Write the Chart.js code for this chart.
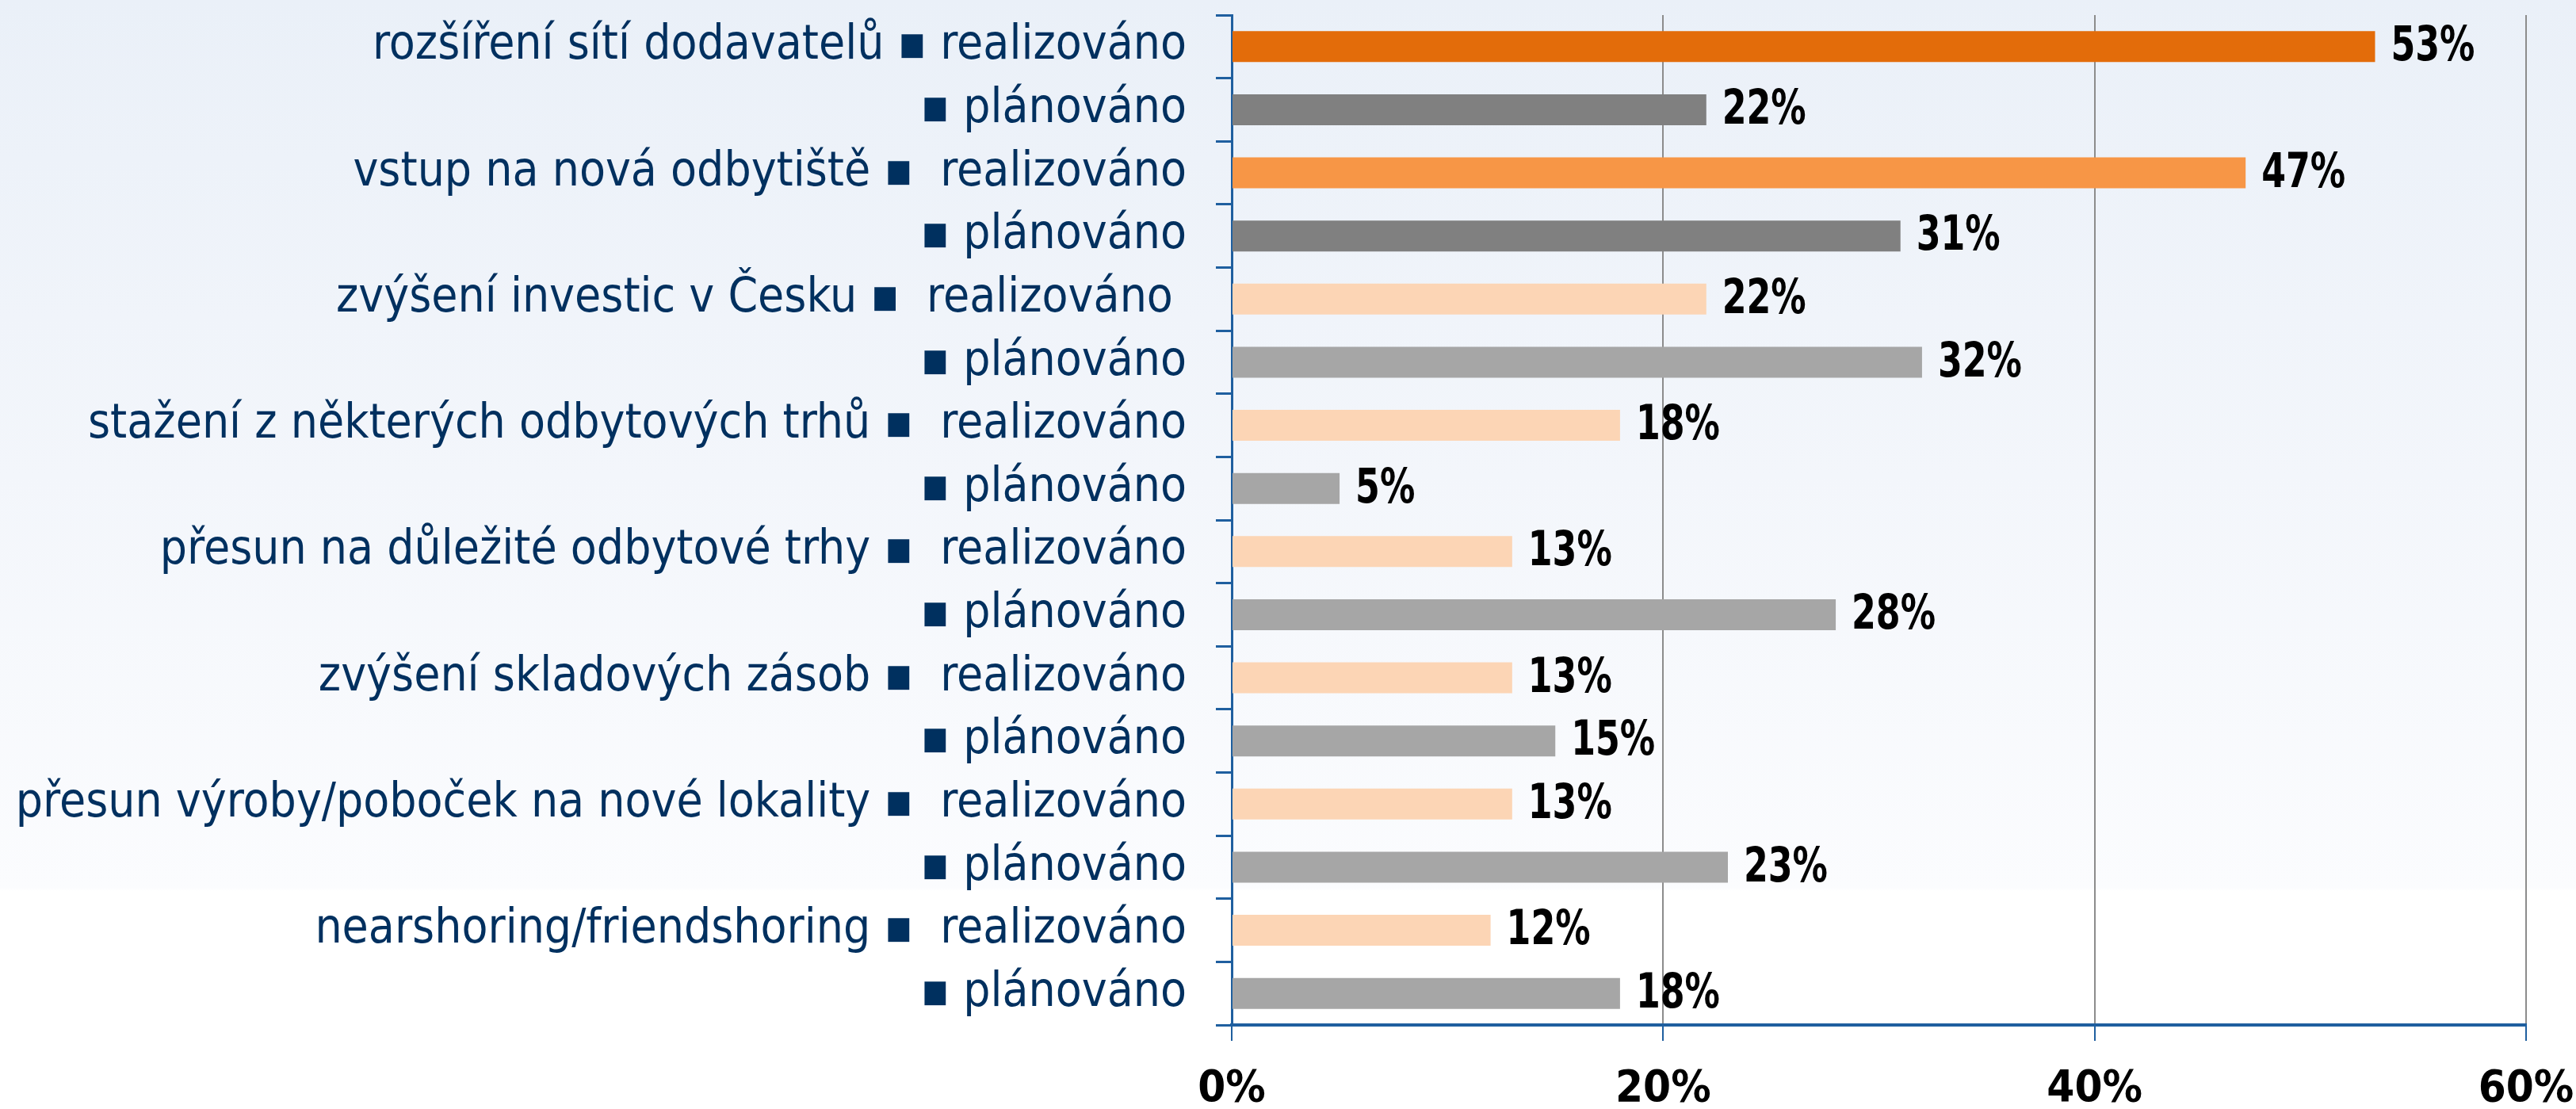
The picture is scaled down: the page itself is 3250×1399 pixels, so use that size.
<!DOCTYPE html>
<html>
<head>
<meta charset="utf-8">
<script src="https://cdn.jsdelivr.net/npm/chart.js@4/dist/chart.umd.min.js"></script>
<style>
    html, body { margin: 0; padding: 0; }
    body {
        width: 3250px;
        height: 1399px;
        background: linear-gradient(to bottom, #eaf0f8 0px, #f3f6fb 600px, #fbfcfe 1120px, #ffffff 1124px);
    }
    canvas { display: block; }
</style>
</head>
<body>
<canvas id="chart" width="3250" height="1399"></canvas>
<script>
const categories = [
    'rozšíření sítí dodavatelů ▪ realizováno',
    '▪ plánováno',
    'vstup na nová odbytiště ▪  realizováno',
    '▪ plánováno',
    'zvýšení investic v Česku ▪  realizováno ',
    '▪ plánováno',
    'stažení z některých odbytových trhů ▪  realizováno',
    '▪ plánováno',
    'přesun na důležité odbytové trhy ▪  realizováno',
    '▪ plánováno',
    'zvýšení skladových zásob ▪  realizováno',
    '▪ plánováno',
    'přesun výroby/poboček na nové lokality ▪  realizováno',
    '▪ plánováno',
    'nearshoring/friendshoring ▪  realizováno',
    '▪ plánováno'
];

const shareValues = [53, 22, 47, 31, 22, 32, 18, 5, 13, 28, 13, 15, 13, 23, 12, 18];

const xTicks = [0, 20, 40, 60];

const barColours = [
    '#e36c0a', '#808080',
    '#f79646', '#808080',
    '#fcd5b5', '#a6a6a6',
    '#fcd5b5', '#a6a6a6',
    '#fcd5b5', '#a6a6a6',
    '#fcd5b5', '#a6a6a6',
    '#fcd5b5', '#a6a6a6',
    '#fcd5b5', '#a6a6a6'
];

const axisBlue = '#1f5f9f';
const labelFont = "'DejaVu Sans Condensed', 'DejaVu Sans', sans-serif";

// value labels next to each bar, squeezed a bit to look like the narrow original
const valueLabels = {
    id: 'valueLabels',
    afterDatasetsDraw(chart) {
        const ctx = chart.ctx;
        const meta = chart.getDatasetMeta(0);
        ctx.save();
        ctx.font = 'bold 60px ' + labelFont;
        ctx.fillStyle = '#000000';
        ctx.textAlign = 'left';
        ctx.textBaseline = 'middle';
        meta.data.forEach((bar, i) => {
            ctx.save();
            ctx.translate(bar.x + 20, bar.y + 2);
            ctx.scale(0.82, 1);
            ctx.fillText(shareValues[i] + '%', 0, 0);
            ctx.restore();
        });
        ctx.restore();
    }
};

new Chart(document.getElementById('chart').getContext('2d'), {
    type: 'bar',
    data: {
        labels: categories,
        datasets: [{
            data: shareValues,
            backgroundColor: barColours,
            borderWidth: 0,
            categoryPercentage: 1,
            barPercentage: 0.49
        }]
    },
    options: {
        indexAxis: 'y',
        animation: false,
        responsive: false,
        layout: { padding: { top: 19, right: 63, left: 0, bottom: 0 } },
        plugins: {
            legend: { display: false },
            tooltip: { enabled: false }
        },
        scales: {
            x: {
                min: 0,
                max: 60,
                afterBuildTicks: scale => {
                    scale.ticks = xTicks.map(v => ({ value: v }));
                },
                afterFit: scale => {
                    scale.height = 106;
                    scale.paddingLeft = 0;
                    scale.paddingRight = 0;
                },
                ticks: {
                    color: '#000000',
                    font: { family: labelFont, size: 56, weight: 'bold' },
                    padding: 28,
                    callback: value => value + '%'
                },
                grid: {
                    color: '#8c8c8c',
                    lineWidth: 2,
                    tickLength: 20,
                    tickColor: axisBlue
                },
                border: { color: axisBlue, width: 4 }
            },
            y: {
                afterFit: scale => {
                    scale.width = 1554;
                    scale.paddingTop = 0;
                    scale.paddingBottom = 0;
                },
                ticks: {
                    color: '#00305f',
                    font: { family: labelFont, size: 60 },
                    padding: 37,
                    autoSkip: false
                },
                grid: {
                    offset: true,
                    drawOnChartArea: false,
                    tickLength: 20,
                    lineWidth: 3,
                    tickColor: axisBlue
                },
                border: { color: axisBlue, width: 3 }
            }
        }
    },
    plugins: [valueLabels]
});
</script>
</body>
</html>
